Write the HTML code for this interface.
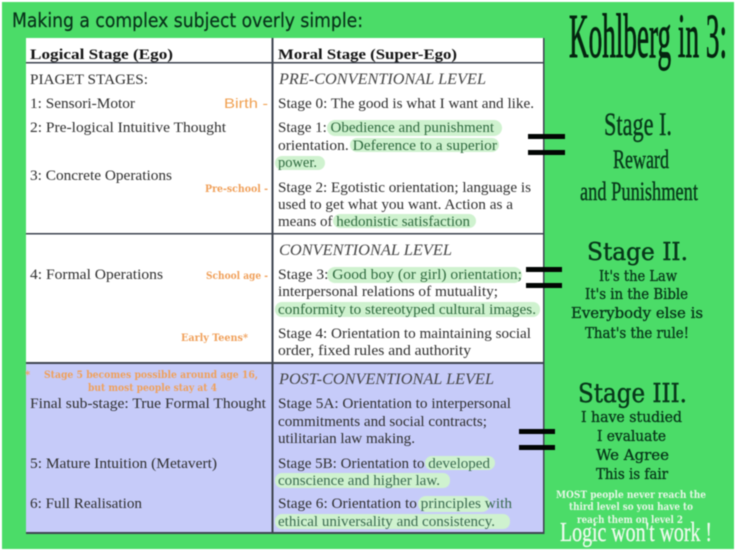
<!DOCTYPE html>
<html><head><meta charset="utf-8"><style>
html,body{margin:0;padding:0;background:#fff;width:736px;height:552px;overflow:hidden}
svg{display:block;filter:blur(.55px)}
text{font-family:"Liberation Serif",serif;font-size:14.5px;fill:#2e2e2e}
.b{font-weight:bold;fill:#141414;font-size:15px}
.i{font-style:italic;font-size:16px;fill:#444}
.o{font-family:"DejaVu Serif",serif;font-weight:bold;font-size:10px;fill:#f0a05a}
.s{font-family:"DejaVu Serif",serif;fill:#07381a;stroke:#07381a;stroke-width:.35px;font-size:15px}
.h{font-family:"DejaVu Serif",serif;fill:#07381a;stroke:#07381a;stroke-width:.45px}
.n{fill:#07381a;stroke:#07381a;stroke-width:.4px}
.w{font-family:"DejaVu Serif",serif;font-weight:bold;fill:#e6f7e6;font-size:10px}
</style></head><body>
<svg width="736" height="552" viewBox="0 0 736 552" xmlns="http://www.w3.org/2000/svg">
<rect x="2" y="2" width="732" height="547" fill="#4bdc68"/>
<rect x="26" y="38" width="518" height="325" fill="#fff"/>
<rect x="26" y="363" width="518" height="170" fill="#c6cbf9"/>
<g fill="#cff2cf">
<rect x="327" y="120" width="175" height="16" rx="8"/>
<rect x="350" y="138" width="149" height="14" rx="7"/>
<rect x="275" y="156" width="50" height="14" rx="7"/>
<rect x="333" y="214" width="143" height="14" rx="7"/>
<rect x="327" y="267" width="195" height="16" rx="8"/>
<rect x="275" y="302" width="265" height="15" rx="7"/>
<rect x="425" y="456" width="70" height="14" rx="7"/>
<rect x="275" y="473" width="175" height="15" rx="7"/>
<rect x="418" y="496" width="72" height="16" rx="8"/>
<rect x="275" y="514" width="235" height="15" rx="7"/>
</g>
<g fill="#3e4450">
<rect x="26" y="62" width="518" height="1.5"/>
<rect x="26" y="233" width="518" height="1.5"/>
<rect x="26" y="362" width="518" height="2"/>
<rect x="26" y="532" width="518" height="2"/>
<rect x="271.500" y="38" width="2" height="496"/>
<rect x="543" y="38" width="1.5" height="496"/>
</g>
<g fill="#020503">
<rect x="528" y="134" width="37" height="5"/>
<rect x="528" y="150" width="37" height="5"/>
<rect x="526" y="267" width="36" height="5"/>
<rect x="526" y="283" width="36" height="5"/>
<rect x="519" y="429" width="36" height="5"/>
<rect x="519" y="445" width="36" height="5"/>
</g>

<text x="12" y="27" textLength="351" lengthAdjust="spacingAndGlyphs" style="font-family:'DejaVu Sans',sans-serif;font-size:19.5px;fill:#08331a;stroke:#08331a;stroke-width:.25px">Making a complex subject overly simple:</text>

<text class="b" x="30" y="59" textLength="143" lengthAdjust="spacingAndGlyphs">Logical Stage (Ego)</text>
<text class="b" x="278" y="59" textLength="179" lengthAdjust="spacingAndGlyphs">Moral Stage (Super-Ego)</text>

<text x="30" y="84" textLength="118" lengthAdjust="spacingAndGlyphs">PIAGET STAGES:</text>
<text x="30" y="108" textLength="105" lengthAdjust="spacingAndGlyphs">1: Sensori-Motor</text>
<text x="30" y="132" textLength="196" lengthAdjust="spacingAndGlyphs">2: Pre-logical Intuitive Thought</text>
<text x="30" y="180" textLength="142" lengthAdjust="spacingAndGlyphs">3: Concrete Operations</text>
<text x="30" y="279" textLength="133" lengthAdjust="spacingAndGlyphs">4: Formal Operations</text>
<text x="30" y="408" textLength="236" lengthAdjust="spacingAndGlyphs">Final sub-stage: True Formal Thought</text>
<text x="30" y="468" textLength="187" lengthAdjust="spacingAndGlyphs">5: Mature Intuition (Metavert)</text>
<text x="30" y="508" textLength="112" lengthAdjust="spacingAndGlyphs">6: Full Realisation</text>

<text x="224" y="108" textLength="44" lengthAdjust="spacingAndGlyphs" style="font-family:'Liberation Sans',sans-serif;font-size:14px;fill:#f0a050">Birth -</text>
<text class="o" x="205" y="192" textLength="63" lengthAdjust="spacingAndGlyphs">Pre-school -</text>
<text class="o" x="206" y="279" textLength="62" lengthAdjust="spacingAndGlyphs">School age -</text>
<text class="o" x="181" y="341" textLength="67" lengthAdjust="spacingAndGlyphs">Early Teens*</text>
<text class="o" x="25" y="378">*</text>
<text class="o" x="44" y="378" textLength="214" lengthAdjust="spacingAndGlyphs">Stage 5 becomes possible around age 16,</text>
<text class="o" x="88" y="391" textLength="129" lengthAdjust="spacingAndGlyphs">but most people stay at 4</text>

<text class="i" x="279" y="84" textLength="207" lengthAdjust="spacingAndGlyphs">PRE-CONVENTIONAL LEVEL</text>
<text x="278" y="108" textLength="256" lengthAdjust="spacingAndGlyphs">Stage 0: The good is what I want and like.</text>
<text x="278" y="132" textLength="216" lengthAdjust="spacingAndGlyphs">Stage 1: <tspan fill="#2f6a3f">Obedience and punishment</tspan></text>
<text x="278" y="150" textLength="219" lengthAdjust="spacingAndGlyphs">orientation. <tspan fill="#2f6a3f">Deference to a superior</tspan></text>
<text x="278" y="167" textLength="39" lengthAdjust="spacingAndGlyphs" style="fill:#2f6a3f">power.</text>
<text x="278" y="192" textLength="253" lengthAdjust="spacingAndGlyphs">Stage 2: Egotistic orientation; language is</text>
<text x="278" y="209" textLength="235" lengthAdjust="spacingAndGlyphs">used to get what you want. Action as a</text>
<text x="278" y="226" textLength="192" lengthAdjust="spacingAndGlyphs">means of <tspan fill="#2f6a3f">hedonistic satisfaction</tspan></text>

<text class="i" x="279" y="255" textLength="173" lengthAdjust="spacingAndGlyphs">CONVENTIONAL LEVEL</text>
<text x="278" y="279" textLength="244" lengthAdjust="spacingAndGlyphs">Stage 3: <tspan fill="#2f6a3f">Good boy (or girl) orientation;</tspan></text>
<text x="278" y="296" textLength="220" lengthAdjust="spacingAndGlyphs">interpersonal relations of mutuality;</text>
<text x="278" y="314" textLength="258" lengthAdjust="spacingAndGlyphs" style="fill:#2f6a3f">conformity to stereotyped cultural images.</text>
<text x="278" y="338" textLength="253" lengthAdjust="spacingAndGlyphs">Stage 4: Orientation to maintaining social</text>
<text x="278" y="355" textLength="193" lengthAdjust="spacingAndGlyphs">order, fixed rules and authority</text>

<text class="i" x="279" y="384" textLength="215" lengthAdjust="spacingAndGlyphs">POST-CONVENTIONAL LEVEL</text>
<text x="278" y="408" textLength="233" lengthAdjust="spacingAndGlyphs">Stage 5A: Orientation to interpersonal</text>
<text x="278" y="426" textLength="209" lengthAdjust="spacingAndGlyphs">commitments and social contracts;</text>
<text x="278" y="443" textLength="137" lengthAdjust="spacingAndGlyphs">utilitarian law making.</text>
<text x="278" y="468" textLength="212" lengthAdjust="spacingAndGlyphs">Stage 5B: Orientation to <tspan fill="#3a6a50">developed</tspan></text>
<text x="278" y="485" textLength="162" lengthAdjust="spacingAndGlyphs" style="fill:#3a6a50">conscience and higher law.</text>
<text x="278" y="508" textLength="234" lengthAdjust="spacingAndGlyphs">Stage 6: Orientation to <tspan fill="#3a6a50">principles with</tspan></text>
<text x="278" y="526" textLength="217" lengthAdjust="spacingAndGlyphs" style="fill:#3a6a50">ethical universality and consistency.</text>

<text x="569" y="57" textLength="158" lengthAdjust="spacingAndGlyphs" style="font-size:62px;fill:#04240f;stroke:#04240f;stroke-width:1px">Kohlberg in 3:</text>
<text class="n" x="604" y="135" textLength="68" lengthAdjust="spacingAndGlyphs" style="font-size:33px">Stage I.</text>
<text class="n" x="613" y="168" textLength="56" lengthAdjust="spacingAndGlyphs" style="font-size:26px">Reward</text>
<text class="n" x="580" y="200" textLength="118" lengthAdjust="spacingAndGlyphs" style="font-size:26px">and Punishment</text>

<text class="h" x="587" y="260" textLength="101" lengthAdjust="spacingAndGlyphs" style="font-size:24px">Stage II.</text>
<text class="s" x="599" y="281" textLength="78" lengthAdjust="spacingAndGlyphs">It's the Law</text>
<text class="s" x="585" y="299" textLength="103" lengthAdjust="spacingAndGlyphs">It's in the Bible</text>
<text class="s" x="571" y="318" textLength="132" lengthAdjust="spacingAndGlyphs">Everybody else is</text>
<text class="s" x="585" y="338" textLength="104" lengthAdjust="spacingAndGlyphs">That's the rule!</text>

<text class="h" x="578" y="402" textLength="109" lengthAdjust="spacingAndGlyphs" style="font-size:26px">Stage III.</text>
<text class="s" x="581" y="422" textLength="101" lengthAdjust="spacingAndGlyphs">I have studied</text>
<text class="s" x="597" y="441" textLength="69" lengthAdjust="spacingAndGlyphs">I evaluate</text>
<text class="s" x="596" y="460" textLength="73" lengthAdjust="spacingAndGlyphs">We Agree</text>
<text class="s" x="596" y="479" textLength="72" lengthAdjust="spacingAndGlyphs">This is fair</text>

<text class="w" x="556" y="498" textLength="150" lengthAdjust="spacingAndGlyphs">MOST people never reach the</text>
<text class="w" x="569" y="510" textLength="124" lengthAdjust="spacingAndGlyphs">third level so you have to</text>
<text class="w" x="577" y="523" textLength="106" lengthAdjust="spacingAndGlyphs">reach them on level 2</text>
<text x="560" y="541" textLength="152" lengthAdjust="spacingAndGlyphs" style="font-size:27px;fill:#eefaee;stroke:#eefaee;stroke-width:.3px">Logic won't work !</text>
</svg>
</body></html>
